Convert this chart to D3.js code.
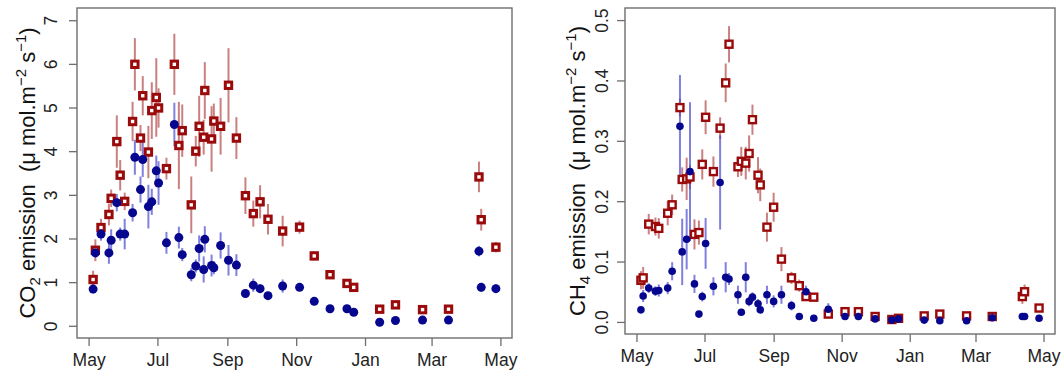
<!DOCTYPE html>
<html>
<head>
<meta charset="utf-8">
<script src="https://cdn.jsdelivr.net/npm/d3@7"></script>
<style>
  html, body { margin: 0; padding: 0; background: #fff; }
  svg text { font-family: "Liberation Sans", Arial, sans-serif; white-space: pre; }
</style>
</head>
<body>
<svg id="chart" width="1064" height="374"></svg>
<script>
// ---------- CO2 panel data ----------
const co2Dates = ["2013-05-05","2013-05-07","2013-05-12","2013-05-19","2013-05-21","2013-05-26","2013-05-29","2013-06-02","2013-06-09","2013-06-11","2013-06-16","2013-06-18","2013-06-23","2013-06-26","2013-06-30","2013-07-02","2013-07-09","2013-07-16","2013-07-20","2013-07-23","2013-07-31","2013-08-04","2013-08-07","2013-08-11","2013-08-12","2013-08-18","2013-08-20","2013-08-26","2013-09-02","2013-09-09","2013-09-17","2013-09-24","2013-09-30","2013-10-07","2013-10-20","2013-11-04","2013-11-17","2013-12-01","2013-12-16","2013-12-22","2014-01-14","2014-01-28","2014-02-21","2014-03-16","2014-04-12","2014-04-14","2014-04-27"];
const co2Red    = [1.06,1.73,2.25,2.55,2.92,4.22,3.45,2.85,4.68,5.99,4.30,5.27,3.98,4.93,5.23,4.99,3.60,5.99,4.13,4.47,2.77,4.00,4.57,4.32,5.39,4.28,4.69,4.57,5.51,4.30,2.98,2.57,2.84,2.44,2.17,2.26,1.60,1.17,0.97,0.88,0.38,0.48,0.37,0.38,3.41,2.43,1.80];
const co2RedErr = [0.20,0.25,0.20,0.25,0.20,0.60,0.35,0.20,0.45,0.60,0.30,0.45,0.60,0.65,0.90,0.45,0.25,0.70,1.00,0.60,0.65,0.35,0.70,0.40,0.65,0.75,0.40,0.65,0.85,0.48,0.42,0.30,0.38,0.35,0.35,0.15,0.10,0.10,0.10,0.10,0.07,0.07,0.05,0.05,0.35,0.25,0.12];
const co2Blue   = [0.84,1.67,2.10,1.67,1.96,2.82,2.10,2.10,2.59,3.86,3.12,3.81,2.73,2.84,3.55,3.27,1.90,4.61,2.02,1.63,1.17,1.37,1.77,1.29,1.98,1.38,1.33,1.84,1.50,1.39,0.74,0.93,0.85,0.69,0.91,0.88,0.56,0.39,0.39,0.31,0.08,0.12,0.13,0.13,1.71,0.88,0.85];
const co2BlueErr= [0.10,0.10,0.15,0.25,0.25,0.20,0.15,0.35,0.20,0.40,0.30,0.40,0.50,0.30,0.35,0.50,0.25,0.50,0.25,0.15,0.15,0.15,0.30,0.30,0.30,0.25,0.15,0.30,0.35,0.25,0.10,0.15,0.10,0.05,0.15,0.05,0.05,0.05,0.05,0.05,0.04,0.04,0.04,0.04,0.12,0.10,0.10];
const co2YTicks = [0,1,2,3,4,5,6,7];

// ---------- CH4 panel data ----------
const ch4Dates = ["2013-05-05","2013-05-07","2013-05-12","2013-05-18","2013-05-21","2013-05-29","2013-06-02","2013-06-09","2013-06-11","2013-06-15","2013-06-18","2013-06-22","2013-06-26","2013-06-29","2013-07-02","2013-07-09","2013-07-15","2013-07-20","2013-07-23","2013-07-31","2013-08-03","2013-08-07","2013-08-10","2013-08-13","2013-08-18","2013-08-20","2013-08-26","2013-09-01","2013-09-08","2013-09-17","2013-09-24","2013-09-30","2013-10-07","2013-10-20","2013-11-04","2013-11-16","2013-12-01","2013-12-16","2013-12-22","2014-01-14","2014-01-28","2014-02-21","2014-03-16","2014-04-12","2014-04-14","2014-04-27"];
const ch4Red    = [0.069,0.073,0.162,0.158,0.155,0.180,0.194,0.355,0.236,0.237,0.240,0.145,0.148,0.261,0.339,0.249,0.321,0.396,0.460,0.257,0.266,0.263,0.279,0.335,0.243,0.227,0.157,0.190,0.104,0.073,0.060,0.042,0.041,0.013,0.017,0.017,0.009,0.004,0.006,0.010,0.013,0.010,0.009,0.042,0.050,0.023];
const ch4RedErr = [0.015,0.018,0.017,0.015,0.017,0.020,0.017,0.015,0.020,0.035,0.020,0.025,0.020,0.025,0.028,0.025,0.018,0.032,0.030,0.017,0.024,0.027,0.030,0.025,0.030,0.027,0.024,0.024,0.020,0.010,0.010,0.006,0.006,0.005,0.004,0.004,0.003,0.002,0.002,0.003,0.004,0.003,0.003,0.012,0.012,0.005];
const ch4Blue   = [0.020,0.043,0.056,0.051,0.052,0.056,0.084,0.324,0.116,0.137,0.249,0.063,0.013,0.042,0.130,0.059,0.231,0.074,0.071,0.045,0.016,0.074,0.034,0.041,0.030,0.020,0.045,0.034,0.045,0.027,0.009,0.050,0.006,0.021,0.009,0.009,0.005,0.003,0.005,0.003,0.002,0.002,0.007,0.009,0.009,0.006];
const ch4BlueErr= [0.004,0.010,0.008,0.008,0.010,0.010,0.015,0.085,0.055,0.050,0.115,0.015,0.005,0.008,0.042,0.015,0.078,0.025,0.010,0.015,0.005,0.025,0.008,0.008,0.008,0.005,0.015,0.010,0.015,0.008,0.003,0.010,0.003,0.010,0.003,0.003,0.002,0.002,0.002,0.002,0.002,0.002,0.002,0.003,0.003,0.002];
const ch4YTicks = [0,0.1,0.2,0.3,0.4,0.5];

// ---------- shared ----------
const xTickDates = ["2013-05-01","2013-07-01","2013-09-01","2013-11-01","2014-01-01","2014-03-01","2014-05-01"];
const xTickLabels = ["May","Jul","Sep","Nov","Jan","Mar","May"];

const parse = d3.timeParse("%Y-%m-%d");
const svg = d3.select("#chart");

const RED = "#9b0a0a", BLUE = "#06068f";
const AXIS = "#6e6e6e";

function drawPanel(cfg) {
  const dates = cfg.dates.map(parse);
  const ext = d3.extent(dates);
  const pad = (ext[1] - ext[0]) * 0.04;
  const x = d3.scaleTime()
    .domain([new Date(+ext[0] - pad), new Date(+ext[1] + pad)])
    .range([cfg.left, cfg.right]);
  const yPad = (cfg.ylim[1] - cfg.ylim[0]) * 0.04;
  const y = d3.scaleLinear()
    .domain([cfg.ylim[0] - yPad, cfg.ylim[1] + yPad])
    .range([cfg.bottom, cfg.top]);

  const g = svg.append("g");

  // x axis
  const xAxis = d3.axisBottom(x)
    .tickValues(xTickDates.map(parse))
    .tickFormat((d, i) => xTickLabels[i])
    .tickSize(8).tickPadding(5).tickSizeOuter(0);
  const gx = g.append("g").attr("transform", `translate(0,${cfg.bottom})`).call(xAxis);
  gx.select(".domain").remove();
  gx.selectAll(".tick line").attr("stroke", AXIS).attr("stroke-width", 1.3);
  gx.selectAll(".tick text").attr("font-size", 17.5).attr("fill", "#222").attr("dy", null).attr("y", 27.5);

  // y axis
  const yAxis = d3.axisLeft(y)
    .tickValues(cfg.yticks)
    .tickFormat(cfg.yfmt)
    .tickSize(8).tickSizeOuter(0);
  const gy = g.append("g").attr("transform", `translate(${cfg.left},0)`).call(yAxis);
  gy.select(".domain").remove();
  gy.selectAll(".tick line").attr("stroke", AXIS).attr("stroke-width", 1.3);
  gy.selectAll(".tick text")
    .attr("font-size", 17.5).attr("fill", "#222")
    .attr("x", null).attr("dy", null)
    .attr("text-anchor", "middle")
    .attr("transform", `translate(${-cfg.ylabOff},0) rotate(-90)`);

  // box
  g.append("rect")
    .attr("x", cfg.left).attr("y", cfg.top)
    .attr("width", cfg.right - cfg.left).attr("height", cfg.bottom - cfg.top)
    .attr("fill", "none").attr("stroke", AXIS).attr("stroke-width", 1.4);

  const idx = d3.range(dates.length);

  // error bars
  g.append("g").selectAll("line").data(idx).join("line")
    .attr("x1", i => x(dates[i])).attr("x2", i => x(dates[i]))
    .attr("y1", i => y(cfg.red[i] - cfg.redErr[i])).attr("y2", i => y(cfg.red[i] + cfg.redErr[i]))
    .attr("stroke", "#b34a4a").attr("stroke-opacity", 0.7).attr("stroke-width", 2);
  g.append("g").selectAll("line").data(idx).join("line")
    .attr("x1", i => x(dates[i])).attr("x2", i => x(dates[i]))
    .attr("y1", i => y(cfg.blue[i] - cfg.blueErr[i])).attr("y2", i => y(cfg.blue[i] + cfg.blueErr[i]))
    .attr("stroke", "#4a4ad0").attr("stroke-opacity", 0.7).attr("stroke-width", 2);

  // red open squares
  const s = cfg.sq;
  g.append("g").selectAll("rect").data(idx).join("rect")
    .attr("x", i => x(dates[i]) - s / 2).attr("y", i => y(cfg.red[i]) - s / 2)
    .attr("width", s).attr("height", s)
    .attr("fill", "#fff").attr("stroke", RED).attr("stroke-width", cfg.sqStroke);

  // blue filled circles
  g.append("g").selectAll("circle").data(idx).join("circle")
    .attr("cx", i => x(dates[i])).attr("cy", i => y(cfg.blue[i]))
    .attr("r", cfg.r).attr("fill", BLUE);

  // y title
  const cy = (cfg.top + cfg.bottom) / 2;
  const t = g.append("text")
    .attr("transform", `translate(${cfg.titleX},${cy}) rotate(-90)`)
    .attr("text-anchor", "middle").attr("font-size", 22).attr("fill", "#111");
  t.append("tspan").text(cfg.gas[0]);
  t.append("tspan").text(cfg.gas[1]).attr("font-size", 15).attr("dy", 5);
  t.append("tspan").text(" emission  (\u03bc mol.m").attr("dy", -5);
  t.append("tspan").text("\u22122").attr("font-size", 15).attr("dy", -9);
  t.append("tspan").text(" s").attr("dy", 9);
  t.append("tspan").text("\u22121").attr("font-size", 15).attr("dy", -9);
  t.append("tspan").text(")").attr("dy", 9);
}

drawPanel({
  dates: co2Dates, red: co2Red, redErr: co2RedErr, blue: co2Blue, blueErr: co2BlueErr,
  ylim: [0, 7], yticks: co2YTicks, yfmt: d3.format("d"),
  left: 77, right: 512, top: 8, bottom: 338,
  ylabOff: 20, titleX: 35, gas: ["CO", "2"], sq: 6.4, sqStroke: 3, r: 4.5
});
drawPanel({
  dates: ch4Dates, red: ch4Red, redErr: ch4RedErr, blue: ch4Blue, blueErr: ch4BlueErr,
  ylim: [0, 0.5], yticks: ch4YTicks, yfmt: d3.format(".1f"),
  left: 625, right: 1055, top: 8, bottom: 334,
  ylabOff: 17, titleX: 585, gas: ["CH", "4"], sq: 7, sqStroke: 2.4, r: 3.8
});
</script>
</body>
</html>
